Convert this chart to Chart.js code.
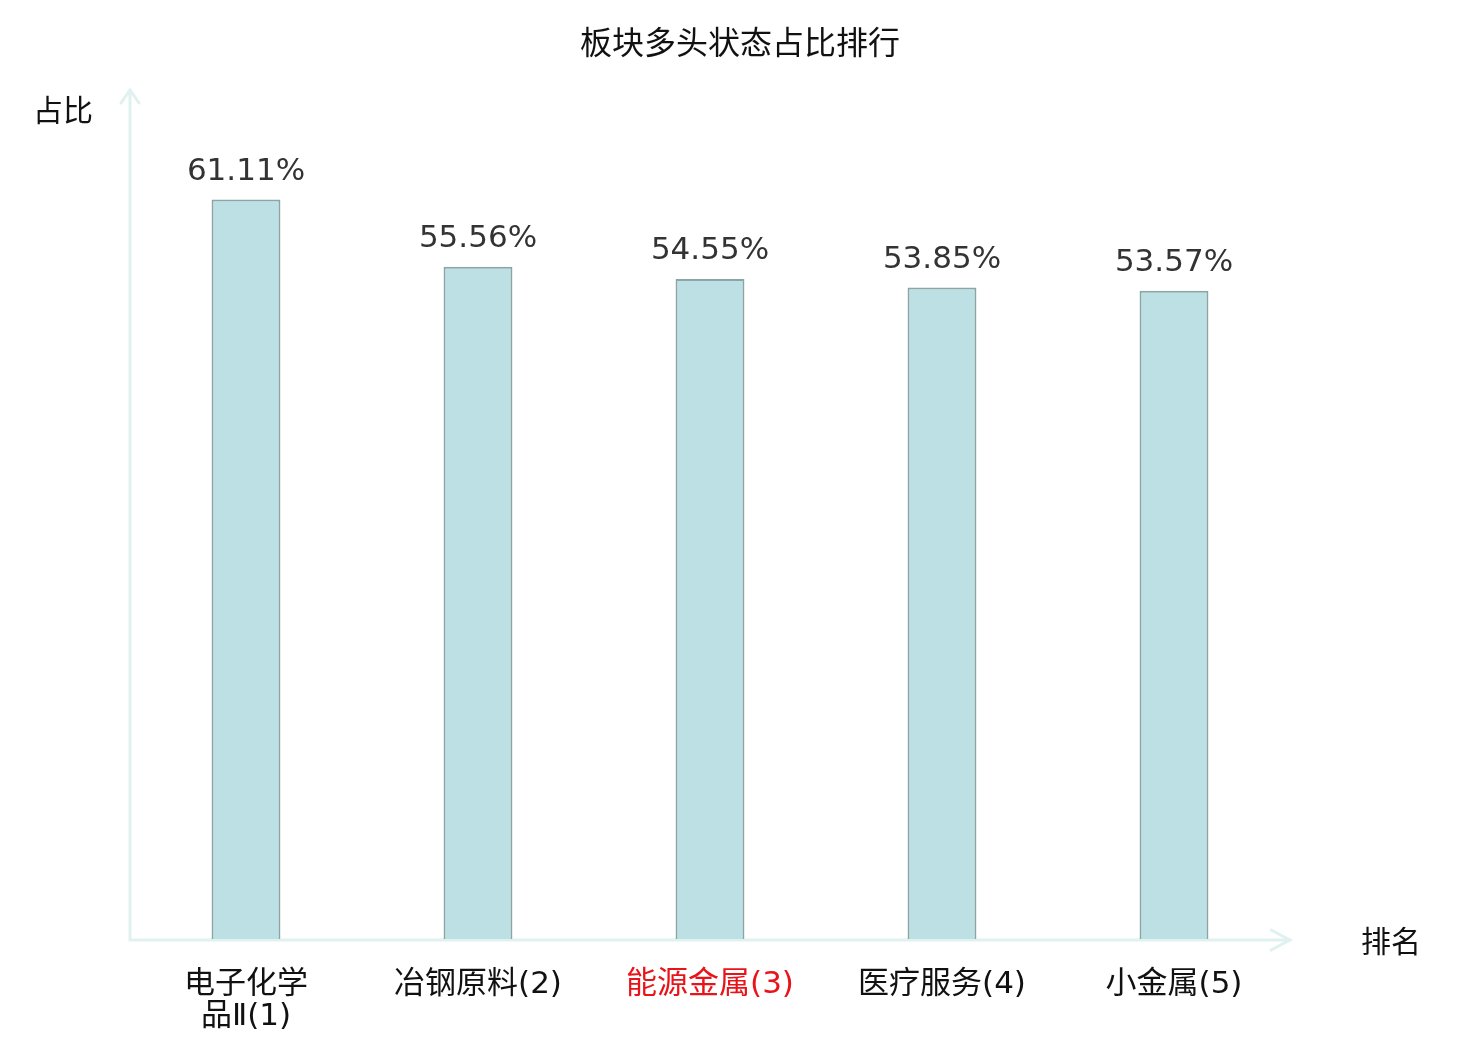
<!DOCTYPE html>
<html>
<head>
<meta charset="utf-8">
<script src="https://cdn.jsdelivr.net/npm/chart.js@4"></script>
<style>
  html,body{margin:0;padding:0;background:#fff;}
  canvas{display:block;}
</style>
</head>
<body>
<canvas id="c" width="1480" height="1040"></canvas>
<script>
'use strict';

/* ── data ── */
const categories=[['电子化学','品Ⅱ(1)'],'冶钢原料(2)','能源金属(3)','医疗服务(4)','小金属(5)'];
const shares=[61.11,55.56,54.55,53.85,53.57];
const labelColors=['#111','#111','#e8141a','#111','#111'];
const yMax=70;

const AXIS='#dff2ef';
const CJK='"Noto Sans CJK SC","DejaVu Sans",sans-serif';
const LATIN_CJK='"DejaVu Sans","Noto Sans CJK SC",sans-serif';

/* ── axes with arrows, title, axis names ── */
const decor={
  id:'decor',
  beforeDatasetsDraw(chart){
    const {ctx,chartArea:a}=chart;
    const y0=a.bottom+1;
    ctx.save();
    ctx.strokeStyle=AXIS;ctx.lineWidth=3;ctx.lineCap='butt';
    ctx.beginPath();
    ctx.moveTo(a.left,y0);ctx.lineTo(a.left,a.top-2);
    ctx.moveTo(a.left-1.5,y0);ctx.lineTo(a.right,y0);
    ctx.stroke();
    ctx.lineCap='round';
    ctx.beginPath();
    ctx.moveTo(a.left-9,a.top+11);ctx.lineTo(a.left,a.top-2);ctx.lineTo(a.left+9,a.top+11);
    ctx.moveTo(a.right-19,y0-10);ctx.lineTo(a.right,y0);ctx.lineTo(a.right-19,y0+10);
    ctx.stroke();

    ctx.fillStyle='#111';
    ctx.textBaseline='middle';
    ctx.textAlign='center';
    ctx.font='32px '+CJK;
    ctx.fillText('板块多头状态占比排行',740,42);
    ctx.font='30px '+CJK;
    ctx.fillText('占比',63,110);
    ctx.fillText('排名',1391,941);
    ctx.restore();
  },
  afterDatasetsDraw(chart){
    const {ctx}=chart;
    const meta=chart.getDatasetMeta(0);
    ctx.save();
    ctx.fillStyle='#333';
    ctx.font='31px "DejaVu Sans",sans-serif';
    ctx.textAlign='center';ctx.textBaseline='alphabetic';
    meta.data.forEach((bar,i)=>{
      ctx.fillText(shares[i].toFixed(2)+'%',bar.x,bar.y-19.5);
    });
    ctx.restore();
  }
};

new Chart(document.getElementById('c'),{
  type:'bar',
  data:{
    labels:categories,
    datasets:[{
      data:shares,
      backgroundColor:'#bce0e3',
      borderColor:'#8aa6a6',
      borderWidth:2,
      barPercentage:0.297,
      categoryPercentage:1
    }]
  },
  options:{
    responsive:false,
    animation:false,
    layout:{padding:{left:130,right:190,top:92,bottom:0}},
    plugins:{legend:{display:false},tooltip:{enabled:false},title:{display:false}},
    scales:{
      x:{
        grid:{display:false},
        border:{display:false},
        ticks:{
          padding:22,
          maxRotation:0,autoSkip:false,
          color:ctx=>labelColors[ctx.index],
          font:{family:LATIN_CJK,size:31,lineHeight:1.04}
        },
        afterFit(scale){scale.height=101;}
      },
      y:{
        display:false,
        min:0,max:yMax
      }
    }
  },
  plugins:[decor]
});
</script>
</body>
</html>
